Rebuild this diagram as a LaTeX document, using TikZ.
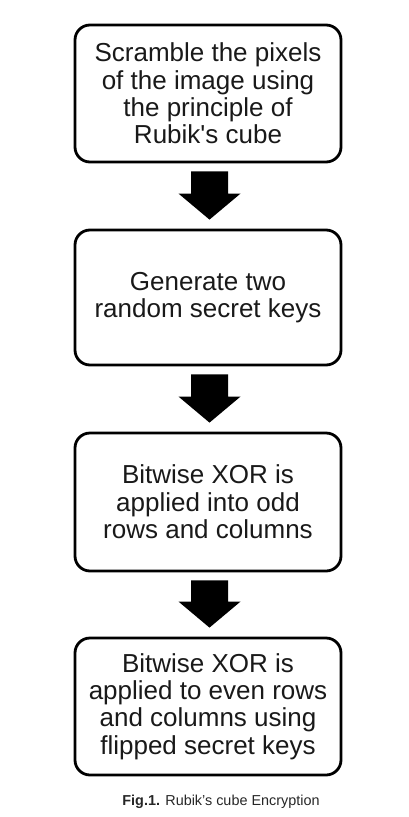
\documentclass[tikz,border=0pt]{standalone}
\usepackage{fontspec}
\setmainfont{Liberation Sans}
\usetikzlibrary{calc}
\begin{document}
\begin{tikzpicture}[x=1pt,y=1pt,
  stepbox/.style={draw=black, line width=2.8pt, rounded corners=15pt, minimum width=266pt, align=center, inner sep=0pt, font=\fontsize{26}{27.4}\selectfont, text=black!90},
  blockarrow/.style={fill=black}]
\useasboundingbox (0,0) rectangle (409,-817);
\node[stepbox, minimum height=137pt] (b1) at (208,-93.5) {Scramble the pixels\\of the image using\\the principle of\\Rubik\textquotesingle s cube};
\node[stepbox, minimum height=135pt] (b2) at (208,-297.5) {Generate two\\random secret keys};
\node[stepbox, minimum height=138pt] (b3) at (208,-502) {Bitwise XOR is\\applied into odd\\rows and columns};
\node[stepbox, minimum height=137pt] (b4) at (208,-706.5) {Bitwise XOR is\\applied to even rows\\and columns using\\flipped secret keys};
\foreach \a/\b in {b1/b2,b2/b3,b3/b4}{
  \coordinate (top) at ($(\a.south)+(1.5,-8)$);
  \coordinate (tip) at ($(\b.north)+(1.5,9)$);
  \fill[blockarrow] ($(top)+(-18.5,0)$) -- ($(top)+(18.5,0)$) -- ($(tip)+(18.5,26)$) -- ($(tip)+(31,26)$) -- (tip) -- ($(tip)+(-31,26)$) -- ($(tip)+(-18.5,26)$) -- cycle;
}
\node[anchor=base, font=\fontsize{14.4}{16}\selectfont, text=black!85] (cap) at (221,-805) {\textbf{Fig.1.} Rubik's cube Encryption};
\end{tikzpicture}
\end{document}
